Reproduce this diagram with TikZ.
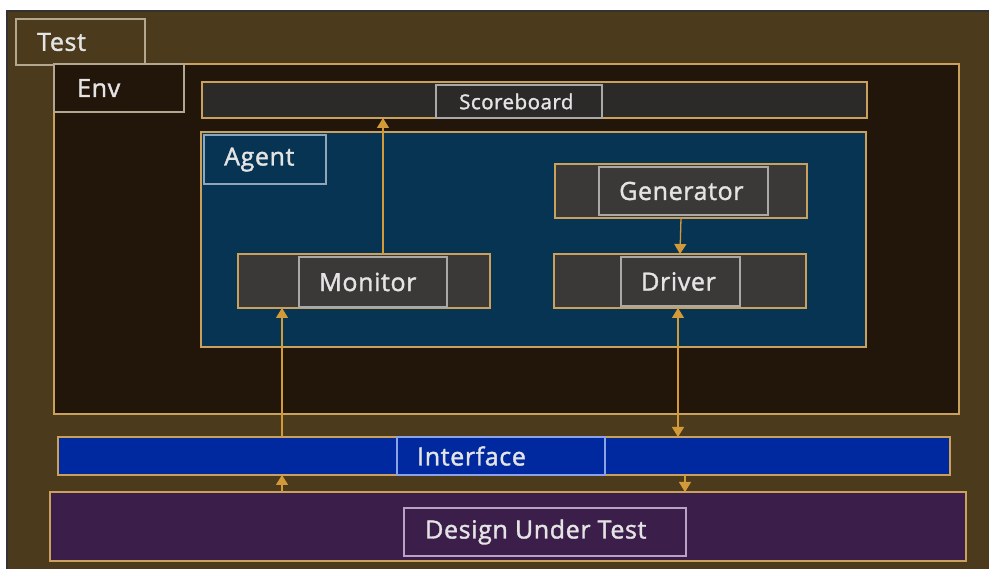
\documentclass[tikz,border=0pt]{standalone}
\usepackage{fontspec}
\setmainfont{Open Sans}
\newfontfamily\lblfont{Open Sans}[UprightFeatures={FakeBold=1.5}, LetterSpace=2.5]
\usetikzlibrary{arrows.meta,calc}

\definecolor{testbg}{HTML}{4B3A1C}
\definecolor{envbg}{HTML}{22160B}
\definecolor{sbbg}{HTML}{2B2A29}
\definecolor{agentbg}{HTML}{083454}
\definecolor{compbg}{HTML}{3A3938}
\definecolor{ifbg}{HTML}{0029A0}
\definecolor{dutbg}{HTML}{3C1E4B}
\definecolor{tan}{HTML}{C9A15C}
\definecolor{arrowc}{HTML}{D39A3A}
\definecolor{tabline}{HTML}{B3A78F}
\definecolor{agtab}{HTML}{8FA6B8}
\definecolor{inline}{HTML}{A9A9A9}
\definecolor{ifline}{HTML}{8CA2E6}
\definecolor{dutline}{HTML}{B9A2C4}
\definecolor{txt}{HTML}{E4E4E4}

% rectangle given by its top-left and bottom-right corners (x right, y down)
\newcommand\mkbox[6]{%
  \node[#1, anchor=north west, inner sep=0pt, outer sep=0pt,
        minimum width={(#5-#3)*1pt}, minimum height={(#6-#4)*1pt}]
        (#2) at (#3,#4) {};}

\tikzset{
  frame/.style={draw=tan, line width=1.6pt},
  tabbox/.style={draw=tabline, line width=1.3pt},
  compbox/.style={frame, fill=compbg},
  innerbox/.style={draw=inline, line width=1.3pt, fill=compbg},
  lbl/.style={text=txt, font=\lblfont\fontsize{25}{29}\selectfont, anchor=west, inner sep=0pt},
  smalllbl/.style={lbl, font=\lblfont\fontsize{20.5}{24}\selectfont},
  link/.style={draw=arrowc, line width=1.3pt},
  tip/.style={-{Triangle[width=12pt,length=10pt]}},
  bitip/.style={{Triangle[width=12pt,length=10pt]}-{Triangle[width=12pt,length=10pt]}},
}

\begin{document}
\begin{tikzpicture}[x=1pt,y=-1pt]
  % page
  \fill[white] (0,0) rectangle (989,569);
  \useasboundingbox (0,0) rectangle (989,569);

  % Test
  \mkbox{fill=testbg, frame}{test}{7}{11}{995}{575}
  \draw[black!80, line width=1.2pt] (test.south west) -- (test.north west) -- (test.north east);
  \mkbox{tabbox}{testtab}{16}{19}{145}{65}
  \node[lbl] (testt) at ([xshift=21pt]testtab.west) {Test};

  % Env
  \mkbox{fill=envbg, frame}{env}{54}{64}{959}{414}
  \mkbox{tabbox}{envtab}{54}{64}{184}{112}
  \node[lbl] (envt) at ([xshift=23pt]envtab.west) {Env};

  % Scoreboard
  \mkbox{fill=sbbg, frame}{sb}{202}{82}{867}{118}
  \mkbox{draw=inline, line width=1.3pt, fill=sbbg}{sblab}{436}{85}{602}{118}
  \node[smalllbl] (sbt) at ([xshift=23pt]sblab.west) {Scoreboard};

  % Agent
  \mkbox{fill=agentbg, frame}{agent}{201}{132}{866}{347}
  \mkbox{draw=agtab, line width=1.3pt}{agtab}{204}{135}{326}{184}
  \node[lbl] (agt) at ([xshift=20pt]agtab.west) {Agent};

  % Generator
  \mkbox{compbox}{gen}{555}{164}{807}{218}
  \mkbox{innerbox}{genlab}{599}{167}{768}{215}
  \node[lbl] (gent) at ([xshift=20pt]genlab.west) {Generator};

  % Driver
  \mkbox{compbox}{drv}{554}{254}{806}{308}
  \mkbox{innerbox}{drvlab}{621}{257}{740}{306}
  \node[lbl] (drvt) at ([xshift=20pt]drvlab.west) {Driver};

  % Monitor
  \mkbox{compbox}{mon}{238}{254}{490}{308}
  \mkbox{innerbox}{monlab}{299}{257}{447}{307}
  \node[lbl] (mont) at ([xshift=20pt]monlab.west) {Monitor};

  % Interface
  \mkbox{fill=ifbg, frame}{intf}{58}{437}{950}{475}
  \mkbox{draw=ifline, line width=1.3pt}{intflab}{397}{437}{605}{475}
  \node[lbl] (intft) at ([xshift=20pt]intflab.west) {Interface};

  % Design Under Test
  \mkbox{fill=dutbg, frame}{dut}{50}{492}{966}{561}
  \mkbox{draw=dutline, line width=1.3pt}{dutlab}{404}{508}{686}{556}
  \node[lbl] (dutt) at ([xshift=21pt]dutlab.west) {Design Under Test};

  % connectors
  \draw[link, tip, arrowc] ([xshift=145pt]mon.north west) -- ([xshift=145pt]mon.north west |- sb.south);
  \draw[link, tip, arrowc] (gen.south) -- (drv.north);
  \draw[link, tip, arrowc] ([xshift=44pt]mon.south west |- intf.north) -- ([xshift=44pt]mon.south west);
  \draw[link, bitip, arrowc] ([xshift=124pt]drv.south west) -- ([xshift=124pt]drv.south west |- intf.north);
  \draw[link, tip, arrowc] ([xshift=224pt]intf.south west |- dut.north) -- ([xshift=224pt]intf.south west);
  \draw[link, tip, arrowc] ([xshift=627pt]intf.south west) -- ([xshift=627pt]intf.south west |- dut.north);
\end{tikzpicture}
\end{document}
